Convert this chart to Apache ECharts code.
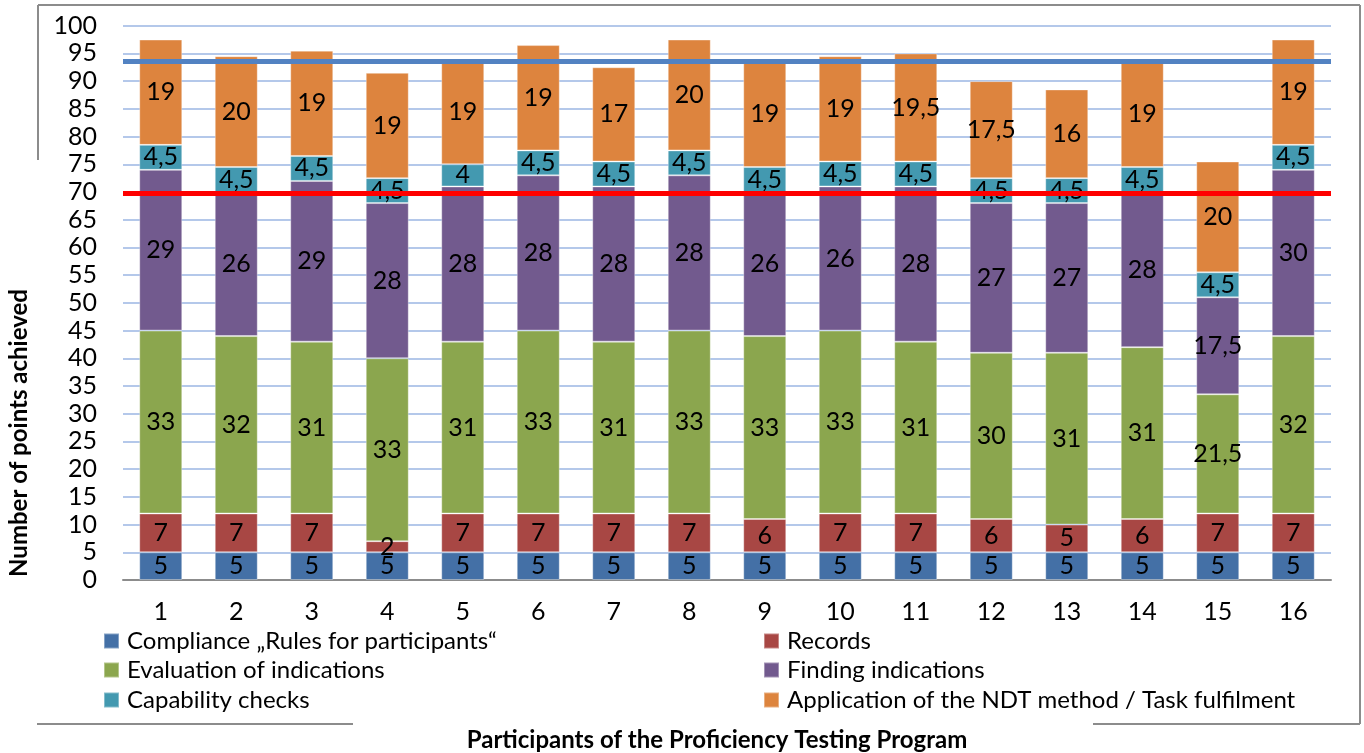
<!DOCTYPE html>
<html>
<head>
<meta charset="utf-8">
<script src="https://cdn.jsdelivr.net/npm/echarts@6/dist/echarts.min.js"></script>
<style>
html,body{margin:0;padding:0;background:#fff;}
#c{width:1364px;height:753px;}
</style>
</head>
<body>
<div id="c"></div>
<script>
const categories = ['1','2','3','4','5','6','7','8','9','10','11','12','13','14','15','16'];
const seriesNames = ['Compliance \u201eRules for participants\u201c','Records','Evaluation of indications','Finding indications','Capability checks','Application of the NDT method / Task fulfilment'];
const compliance = [5,5,5,5,5,5,5,5,5,5,5,5,5,5,5,5];
const records = [7,7,7,2,7,7,7,7,6,7,7,6,5,6,7,7];
const evaluation = [33,32,31,33,31,33,31,33,33,33,31,30,31,31,21.5,32];
const finding = [29,26,29,28,28,28,28,28,26,26,28,27,27,28,17.5,30];
const capability = [4.5,4.5,4.5,4.5,4,4.5,4.5,4.5,4.5,4.5,4.5,4.5,4.5,4.5,4.5,4.5];
const application = [19,20,19,19,19,19,17,20,19,19,19.5,17.5,16,19,20,19];
const blueLineValue = 93.6;
const redLineValue = 69.8;
const yTicks = {min:0, max:100, interval:5};

const colors = ['#4470A6','#A84744','#8BA64E','#725A8E','#4399B0','#DD843E'];
const values = [compliance, records, evaluation, finding, capability, application];
const FONT = 'Lato';

const series = values.map((arr, i) => {
  const s = {
    name: seriesNames[i],
    type: 'bar',
    stack: 'total',
    barWidth: 43,
    data: arr,
    itemStyle: {color: colors[i], borderColor: 'rgba(255,255,255,0.35)', borderWidth: 1},
    label: {
      show: true, position: 'inside', color: '#000', fontFamily: FONT, fontSize: 25,
      formatter: p => String(p.value).replace('.', ',')
    },
    emphasis: {disabled: true}
  };
  if (i === 5) {
    s.markLine = {
      silent: true, symbol: 'none', label: {show: false},
      data: [
        {yAxis: blueLineValue, lineStyle: {color: '#5282C2', width: 5, type: 'solid'}},
        {yAxis: redLineValue, lineStyle: {color: '#FF0000', width: 5, type: 'solid'}}
      ]
    };
  }
  return s;
});

const legendPos = [[103,628],[763,628],[103,657],[763,657],[103,687],[763,687]];
const legends = seriesNames.map((n, i) => ({
  data: [n], left: legendPos[i][0], top: legendPos[i][1],
  icon: 'rect', itemWidth: 15, itemHeight: 15, itemGap: 0,
  selectedMode: false,
  textStyle: {fontFamily: FONT, fontSize: 24, color: '#000', lineHeight: 26, padding: [0,0,0,3]},
  padding: 0
}));

const gray = '#8C8C8C';
const chart = echarts.init(document.getElementById('c'));
chart.setOption({
  animation: false,
  backgroundColor: '#fff',
  color: colors,
  grid: {left: 123, right: 33, top: 25.7, bottom: 173, containLabel: false},
  legend: legends,
  xAxis: {
    type: 'category', data: categories,
    axisLine: {lineStyle: {color: gray, width: 2}},
    axisTick: {show: false},
    axisLabel: {color: '#000', fontFamily: FONT, fontSize: 25, margin: 19}
  },
  yAxis: {
    type: 'value', min: yTicks.min, max: yTicks.max, interval: yTicks.interval,
    axisLine: {show: false}, axisTick: {show: false},
    axisLabel: {color: '#000', fontFamily: FONT, fontSize: 25, margin: 26},
    splitLine: {lineStyle: {color: '#B4C8EA', width: 2}}
  },
  graphic: [
    {type: 'line', shape: {x1: 38, y1: 5, x2: 1360, y2: 5}, style: {stroke: gray, lineWidth: 2}, silent: true},
    {type: 'line', shape: {x1: 1360, y1: 5, x2: 1360, y2: 724}, style: {stroke: gray, lineWidth: 2}, silent: true},
    {type: 'line', shape: {x1: 38, y1: 5, x2: 38, y2: 160}, style: {stroke: gray, lineWidth: 2}, silent: true},
    {type: 'line', shape: {x1: 37, y1: 724, x2: 353, y2: 724}, style: {stroke: gray, lineWidth: 2}, silent: true},
    {type: 'line', shape: {x1: 1093, y1: 724, x2: 1360, y2: 724}, style: {stroke: gray, lineWidth: 2}, silent: true},
    {type: 'text', x: 19, y: 433, rotation: Math.PI/2,
     style: {text: 'Number of points achieved', font: 'bold 24px Lato', fill: '#000', textAlign: 'center', textVerticalAlign: 'middle'}},
    {type: 'text', x: 717, y: 740,
     style: {text: 'Participants of the Proficiency Testing Program', font: 'bold 24px Lato', fill: '#000', textAlign: 'center', textVerticalAlign: 'middle'}}
  ],
  series: series
});
</script>
</body>
</html>
